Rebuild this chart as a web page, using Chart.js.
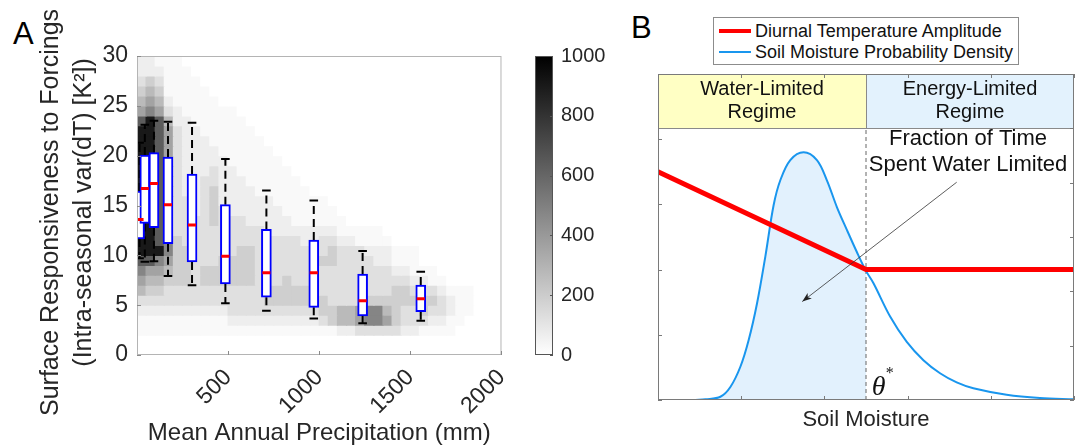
<!DOCTYPE html>
<html>
<head>
<meta charset="utf-8">
<script src="https://cdn.jsdelivr.net/npm/chart.js@4.4.1/dist/chart.umd.min.js"></script>
<style>
  body { margin: 0; width: 1079px; height: 448px; background: #fff; position: relative; overflow: hidden; font-family: "Liberation Sans", Arial, sans-serif; }
  canvas { position: absolute; top: 0; }
  .letter { position: absolute; font-size: 31px; line-height: 1; color: #000; }
  #legend { position: absolute; left: 713px; top: 17px; width: 306px; height: 48px; border: 1px solid #8c8c8c; box-sizing: border-box; background: #fff; font-size: 18px; color: #111; }
  #legend .row { position: absolute; left: 0; height: 20px; line-height: 20px; white-space: nowrap; }
  #legend .swatch { position: absolute; left: 5px; top: 50%; width: 32px; }
  #legend .txt { position: absolute; left: 41px; top: 0; }
</style>
</head>
<body>
<div class="letter" style="left:13px; top:18px;">A</div>
<div class="letter" style="left:631px; top:12px;">B</div>
<canvas id="chartA" width="530" height="448" style="left:0px"></canvas>
<canvas id="cbar" width="80" height="448" style="left:530px"></canvas>
<canvas id="chartB" width="479" height="448" style="left:600px"></canvas>
<div id="legend">
  <div class="row" style="top:3px"><div class="swatch" style="height:4px; margin-top:-2px; background:#ff0000"></div><div class="txt">Diurnal Temperature Amplitude</div></div>
  <div class="row" style="top:24px"><div class="swatch" style="height:2px; margin-top:-1px; background:#1996ee"></div><div class="txt">Soil Moisture Probability Density</div></div>
</div>
<script>
// ---- panel A: box plots per precipitation class (mm, K^2)
const boxX    = [14, 43, 93, 170, 302, 485, 710, 970, 1238, 1557];
const whiskLo = [9.7, 9.36, 9.4, 7.93, 6.99, 5.18, 4.45, 3.65, 3.18, 3.44];
const q1      = [11.64, 13.2, 12.78, 11.17, 9.33, 7.12, 5.79, 4.78, 3.91, 4.34];
const medians = [13.6, 16.7, 17.2, 15.08, 13.04, 9.9, 8.26, 8.26, 5.45, 5.65];
const q3      = [16.45, 20.07, 20.3, 19.87, 18.16, 15.08, 12.6, 11.54, 8.12, 7.02];
const whiskHi = [21.3, 23.1, 23.5, 23.4, 23.3, 19.66, 16.5, 15.5, 10.43, 8.36];

const xTicksA = [500, 1000, 1500, 2000];
const cbarTicks = [0, 200, 400, 600, 800, 1000];

// 2D histogram: 50 mm x 1 K^2 bins, one char per column, top row (29-30) first
const binW = 50;
const cellLevels = [0, 25, 65, 120, 190, 270, 360, 480, 640, 900];
const densityRows = [
  "2211100000000000000000000000000000000000",
  "2221110000000000000000000000000000000000",
  "3431111000000000000000000000000000000000",
  "4541111100000000000000000000000000000000",
  "5652111110000000000000000000000000000000",
  "6763211111100000000000000000000000000000",
  "8985221111110000000000000000000000000000",
  "9986322111111000000000000000000000000000",
  "9986322211111100000000000000000000000000",
  "9986322221111110000000000000000000000000",
  "9986322222111111000000000000000000000000",
  "9986322232211111100000000000000000000000",
  "9986322332221111110000000000000000000000",
  "9986322342222111111000000000000000000000",
  "9986332342222221111110000000000000000000",
  "9986332343222222111111000000000000000000",
  "9987333343332222211111100000000000000000",
  "9987333333333322222222111110000000000000",
  "9987433333333333332233221111000000000000",
  "9997443333344333333334333222111000000000",
  "8876443334444333333344333322111000000000",
  "7665443444444333333333333333221110000000",
  "6554443444444333433333333333332211000000",
  "5443333333333344444333333333443332111000",
  "3333333333333344444443333444444443211000",
  "2222222222333333333344556775433433211000",
  "1111111111222222222234556776433322110000",
  "1111111111111111111111223333322111100000",
  "0000000000000000000000000000000000000000",
  "0000000000000000000000000000000000000000"
];

// ---- panel B: conceptual curves (soil moisture units)
const thetaStar = 2.5;
const headerBottom = 4.17;
const dtaX = [0, 2.5, 5];
const dtaY = [3.5, 2.0, 2.0];
const smX   = [0.45, 0.57, 0.75, 0.87, 0.99, 1.09, 1.19, 1.29, 1.39, 1.47, 1.59, 1.75, 1.91, 2.03, 2.15, 2.27, 2.39, 2.5, 2.59, 2.79, 2.99, 3.19, 3.39, 3.59, 3.79, 4.19, 4.59, 5.0];
const smPdf = [0, 0.01, 0.05, 0.20, 0.51, 0.92, 1.48, 2.20, 2.99, 3.37, 3.68, 3.80, 3.68, 3.37, 2.96, 2.61, 2.27, 1.98, 1.79, 1.28, 0.89, 0.61, 0.41, 0.27, 0.18, 0.08, 0.03, 0.01];

const FONT = '"Liberation Sans", Arial, sans-serif';
const INK = '#262626';

function grayFor(v) {
  const g = Math.round(255 * (1 - v / 1000));
  return 'rgb(' + g + ',' + g + ',' + g + ')';
}

// ---------------- panel A ----------------
const heatSets = densityRows.map((row, i) => {
  const yLow = densityRows.length - 1 - i;
  const cells = row.split('');
  return {
    type: 'bar',
    xAxisID: 'x',
    grouped: false,
    order: 10,
    data: cells.map((ch, c) => ({ x: c * binW + binW / 2, y: [yLow, yLow + 1] })),
    backgroundColor: cells.map(ch => grayFor(cellLevels[+ch])),
    borderWidth: 0,
    inflateAmount: 0.6,
    barPercentage: 1,
    categoryPercentage: 1,
    clip: 0
  };
});

const whiskerPts = [];
boxX.forEach((x, i) => {
  whiskerPts.push({ x: x, y: q3[i] }, { x: x, y: whiskHi[i] }, { x: x, y: null });
  whiskerPts.push({ x: x, y: q1[i] }, { x: x, y: whiskLo[i] }, { x: x, y: null });
});

const capPts = [];
boxX.forEach((x, i) => {
  capPts.push({ x: x, y: whiskHi[i] }, { x: x, y: whiskLo[i] });
});

const frameA = {
  id: 'frameA',
  afterDatasetsDraw(chart) {
    const { ctx, chartArea: a, scales } = chart;
    ctx.save();
    ctx.strokeStyle = '#b4b4b4';
    ctx.lineWidth = 1;
    ctx.strokeRect(a.left + 0.5, a.top + 0.5, a.width - 1, a.height - 1);
    ctx.strokeStyle = '#8a8a8a';
    ctx.beginPath();
    scales.x.ticks.forEach(t => {
      const px = Math.round(scales.x.getPixelForValue(t.value)) + 0.5;
      ctx.moveTo(px, a.bottom); ctx.lineTo(px, a.bottom - 4);
    });
    scales.y.ticks.forEach(t => {
      const py = Math.round(scales.y.getPixelForValue(t.value)) + 0.5;
      ctx.moveTo(a.left, py); ctx.lineTo(a.left + 4, py);
    });
    ctx.stroke();
    ctx.restore();
  }
};

new Chart(document.getElementById('chartA'), {
  type: 'bar',
  data: {
    datasets: heatSets.concat([
      {
        type: 'line', xAxisID: 'xb', order: 3,
        data: whiskerPts,
        borderColor: '#000', borderWidth: 2, borderDash: [8, 5],
        pointRadius: 0, spanGaps: false, fill: false
      },
      {
        type: 'bar', xAxisID: 'xb', order: 2, grouped: false,
        data: boxX.map((x, i) => ({ x: x, y: [q1[i], q3[i]] })),
        backgroundColor: '#ffffff', borderColor: '#0000ff', borderWidth: 2,
        borderSkipped: false, barThickness: 10, clip: 0
      },
      {
        type: 'scatter', xAxisID: 'xb', order: 1,
        data: boxX.map((x, i) => ({ x: x, y: medians[i] })),
        pointStyle: 'line', pointRadius: 4, borderColor: '#ff0000', borderWidth: 3
      },
      {
        type: 'scatter', xAxisID: 'xb', order: 0,
        data: capPts,
        pointStyle: 'line', pointRadius: 4.3, borderColor: '#000', borderWidth: 2
      }
    ])
  },
  options: {
    responsive: false,
    animation: false,
    events: [],
    layout: { padding: { left: 0, top: 56, right: 22, bottom: 0 } },
    plugins: { legend: { display: false }, tooltip: { enabled: false } },
    scales: {
      x: {
        type: 'linear', min: 0, max: 2000, offset: false,
        afterBuildTicks: s => { s.ticks = xTicksA.map(v => ({ value: v })); },
        afterFit: s => { s.height = 93; },
        grid: { display: false, drawTicks: false, offset: false },
        border: { display: false },
        ticks: { minRotation: 45, maxRotation: 45, autoSkip: false, padding: 9, color: INK, font: { family: FONT, size: 23 }, callback: v => String(v) },
        title: { display: true, text: 'Mean Annual Precipitation (mm)', color: INK, font: { family: FONT, size: 24 }, padding: { top: 0, bottom: 0 } }
      },
      xb: { type: 'linear', min: 0, max: 2000, display: false, offset: false, grid: { offset: false } },
      y: {
        type: 'linear', min: 0, max: 30,
        afterFit: s => { s.width = 137; },
        grid: { display: false, drawTicks: false },
        border: { display: false },
        ticks: { stepSize: 5, padding: 9, color: INK, font: { family: FONT, size: 23 }, callback: v => String(v) },
        title: {
          display: true,
          // trailing spaces nudge the rotated text a little lower, as in the original
          text: ['Surface Responsiveness to Forcings  ', '(Intra-seasonal var(dT) [K\u00b2])  '],
          color: INK, font: { family: FONT, size: 25, lineHeight: 1.32 }, padding: { top: 35, bottom: 0 }
        }
      }
    }
  },
  plugins: [frameA]
});

// ---------------- colour bar ----------------
const frameCbar = {
  id: 'frameCbar',
  afterDatasetsDraw(chart) {
    const { ctx, chartArea: a, scales } = chart;
    ctx.save();
    ctx.strokeStyle = '#555';
    ctx.lineWidth = 1;
    ctx.strokeRect(a.left + 0.5, a.top + 0.5, a.width - 1, a.height - 1);
    ctx.beginPath();
    scales.y.ticks.forEach(t => {
      const py = Math.round(scales.y.getPixelForValue(t.value)) + 0.5;
      ctx.moveTo(a.right, py); ctx.lineTo(a.right - 3, py);
    });
    ctx.stroke();
    ctx.restore();
  }
};

new Chart(document.getElementById('cbar'), {
  type: 'bar',
  data: {
    labels: [''],
    datasets: [{
      data: [[cbarTicks[0], cbarTicks[cbarTicks.length - 1]]],
      backgroundColor: c => {
        const a = c.chart.chartArea;
        if (!a) return '#888';
        const g = c.chart.ctx.createLinearGradient(0, a.bottom, 0, a.top);
        g.addColorStop(0, '#ffffff');
        g.addColorStop(1, '#000000');
        return g;
      },
      borderWidth: 0, barPercentage: 1, categoryPercentage: 1
    }]
  },
  options: {
    responsive: false,
    animation: false,
    events: [],
    layout: { padding: { left: 5, top: 56, right: 0, bottom: 93 } },
    plugins: { legend: { display: false }, tooltip: { enabled: false } },
    scales: {
      x: { display: false },
      y: {
        position: 'right', min: 0, max: 1000,
        afterBuildTicks: s => { s.ticks = cbarTicks.map(v => ({ value: v })); },
        afterFit: s => { s.width = 57; },
        grid: { display: false, drawTicks: false },
        border: { display: false },
        ticks: { padding: 8, color: INK, font: { family: FONT, size: 20 }, callback: v => String(v) }
      }
    }
  },
  plugins: [frameCbar]
});

// ---------------- panel B ----------------
const smPts = smX.map((x, i) => ({ x: x, y: smPdf[i] }));
const fillPts = smPts.filter(p => p.x <= thetaStar);
const dtaPts = dtaX.map((x, i) => ({ x: x, y: dtaY[i] }));

const decorB = {
  id: 'decorB',
  beforeDatasetsDraw(chart) {
    const { ctx, chartArea: a, scales: { x, y } } = chart;
    const xm = x.getPixelForValue(thetaStar);
    const yb = y.getPixelForValue(headerBottom);
    ctx.save();
    ctx.fillStyle = '#ffffc4';
    ctx.fillRect(a.left, a.top, xm - a.left, yb - a.top);
    ctx.fillStyle = '#e3f2fd';
    ctx.fillRect(xm, a.top, a.right - xm, yb - a.top);
    ctx.strokeStyle = '#8a8a8a';
    ctx.lineWidth = 1;
    ctx.beginPath();
    ctx.moveTo(a.left, Math.round(yb) + 0.5); ctx.lineTo(a.right, Math.round(yb) + 0.5);
    ctx.moveTo(Math.round(xm) + 0.5, a.top); ctx.lineTo(Math.round(xm) + 0.5, yb);
    ctx.stroke();
    ctx.fillStyle = '#111';
    ctx.font = '20px ' + FONT;
    ctx.textAlign = 'center';
    ctx.textBaseline = 'middle';
    const yl1 = y.getPixelForValue(4.77), yl2 = y.getPixelForValue(4.41);
    ctx.fillText('Water-Limited', x.getPixelForValue(1.25), yl1);
    ctx.fillText('Regime', x.getPixelForValue(1.25), yl2);
    ctx.fillText('Energy-Limited', x.getPixelForValue(3.75), yl1);
    ctx.fillText('Regime', x.getPixelForValue(3.75), yl2);
    ctx.restore();
  },
  afterDatasetsDraw(chart) {
    const { ctx, chartArea: a, scales: { x, y, y2 } } = chart;
    ctx.save();
    // frame and inward ticks
    ctx.strokeStyle = '#7a7a7a';
    ctx.lineWidth = 1;
    ctx.strokeRect(a.left + 0.5, a.top + 0.5, a.width - 1, a.height - 1);
    ctx.beginPath();
    x.ticks.forEach(t => {
      const px = Math.round(x.getPixelForValue(t.value)) + 0.5;
      ctx.moveTo(px, a.bottom); ctx.lineTo(px, a.bottom - 4);
      ctx.moveTo(px, a.top); ctx.lineTo(px, a.top + 4);
    });
    y.ticks.forEach(t => {
      const py = Math.round(y.getPixelForValue(t.value)) + 0.5;
      ctx.moveTo(a.left, py); ctx.lineTo(a.left + 4, py);
    });
    y2.ticks.forEach(t => {
      const py = Math.round(y2.getPixelForValue(t.value)) + 0.5;
      ctx.moveTo(a.right, py); ctx.lineTo(a.right - 4, py);
    });
    ctx.stroke();

    // annotation arrow
    const x0 = x.getPixelForValue(3.59), y0 = y.getPixelForValue(3.34);
    const x1 = x.getPixelForValue(1.734), y1 = y.getPixelForValue(1.51);
    const ang = Math.atan2(y1 - y0, x1 - x0);
    ctx.strokeStyle = '#333';
    ctx.lineWidth = 0.8;
    ctx.beginPath();
    ctx.moveTo(x0, y0); ctx.lineTo(x1, y1);
    ctx.stroke();
    ctx.fillStyle = '#222';
    ctx.beginPath();
    ctx.moveTo(x1, y1);
    ctx.lineTo(x1 - 10 * Math.cos(ang - 0.35), y1 - 10 * Math.sin(ang - 0.35));
    ctx.lineTo(x1 - 7 * Math.cos(ang), y1 - 7 * Math.sin(ang));
    ctx.lineTo(x1 - 10 * Math.cos(ang + 0.35), y1 - 10 * Math.sin(ang + 0.35));
    ctx.closePath();
    ctx.fill();

    ctx.fillStyle = '#111';
    ctx.textAlign = 'center';
    ctx.textBaseline = 'middle';
    ctx.font = '22px ' + FONT;
    ctx.fillText('Fraction of Time', x.getPixelForValue(3.726), y.getPixelForValue(4.01));
    ctx.fillText('Spent Water Limited', x.getPixelForValue(3.726), y.getPixelForValue(3.60));

    ctx.textAlign = 'left';
    ctx.textBaseline = 'alphabetic';
    ctx.font = 'italic 28px "Liberation Serif", serif';
    const tx = x.getPixelForValue(2.57), ty = a.bottom - 5;
    ctx.fillText('\u03b8', tx, ty);
    ctx.font = '16px "Liberation Serif", serif';
    ctx.fillText('*', tx + 14, ty - 17);
    ctx.restore();
  }
};

new Chart(document.getElementById('chartB'), {
  type: 'line',
  data: {
    datasets: [
      {
        label: 'fill', data: fillPts, order: 5,
        borderWidth: 0, pointRadius: 0, fill: 'origin', backgroundColor: '#e2f1fd',
        tension: 0.35
      },
      {
        label: 'Soil Moisture Probability Density', data: smPts, order: 2,
        borderColor: '#1996ee', borderWidth: 2, pointRadius: 0, fill: false,
        tension: 0.35
      },
      {
        label: 'Diurnal Temperature Amplitude', data: dtaPts, order: 1,
        borderColor: '#ff0000', borderWidth: 5, pointRadius: 0, fill: false, tension: 0
      },
      {
        label: 'theta', data: [{ x: thetaStar, y: 0 }, { x: thetaStar, y: headerBottom }], order: 3,
        borderColor: '#666', borderWidth: 1, borderDash: [4, 3], pointRadius: 0, fill: false
      }
    ]
  },
  options: {
    responsive: false,
    animation: false,
    events: [],
    layout: { padding: { left: 58, top: 74, right: 5, bottom: 0 } },
    plugins: { legend: { display: false }, tooltip: { enabled: false } },
    scales: {
      x: {
        type: 'linear', min: 0, max: 5,
        ticks: { stepSize: 1, display: false },
        afterFit: s => { s.height = 48; },
        grid: { display: false, drawTicks: false },
        border: { display: false },
        title: { display: true, text: 'Soil Moisture', color: INK, font: { family: FONT, size: 22 }, padding: { top: 0, bottom: 15 } }
      },
      y: { type: 'linear', min: 0, max: 5, display: false, ticks: { stepSize: 1 } },
      y2: { type: 'linear', min: 0, max: 6, display: false, ticks: { stepSize: 1 } }
    }
  },
  plugins: [decorB]
});
</script>
</body>
</html>
